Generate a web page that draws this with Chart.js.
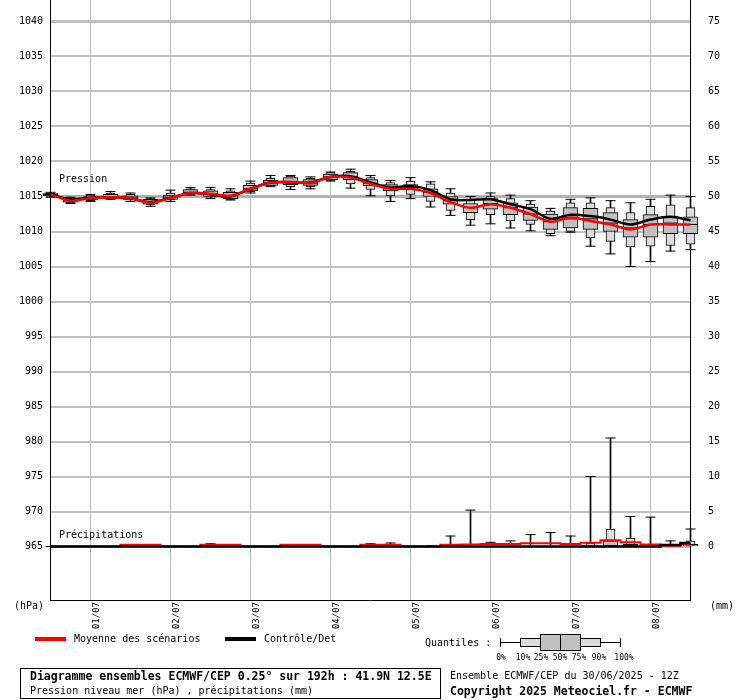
<!DOCTYPE html>
<html>
<head>
<meta charset="utf-8">
<script src="https://cdn.jsdelivr.net/npm/chart.js@4.4.1/dist/chart.umd.min.js"></script>
<style>
  html, body { margin: 0; padding: 0; background: #fff; }
  canvas { display: block; }
</style>
</head>
<body>
<canvas id="graphique" width="740" height="700"></canvas>
<script>
// Echéances (heures depuis le 30/06/2025 12Z)
const heures = [0,6,12,18,24,30,36,42,48,54,60,66,72,78,84,90,96,102,108,114,120,126,132,138,144,150,156,162,168,174,180,186,192];

// Pression (hPa) : quantiles, moyenne, contrôle
const pMin = [1014.9,1014.0,1014.3,1014.6,1014.3,1013.6,1014.3,1015.2,1014.7,1014.5,1015.5,1016.4,1016.0,1016.1,1017.2,1016.2,1015.1,1014.3,1014.7,1013.5,1012.3,1010.9,1011.1,1010.5,1010.1,1009.4,1009.9,1007.9,1006.8,1005.0,1005.7,1007.2,1007.4];
const pP10 = [1015.0,1014.1,1014.4,1014.7,1014.5,1013.8,1014.5,1015.3,1014.9,1014.6,1015.7,1016.5,1016.4,1016.4,1017.3,1016.8,1016.0,1015.1,1015.3,1014.3,1013.0,1011.7,1012.4,1011.5,1011.0,1009.7,1010.0,1009.1,1008.6,1007.8,1007.9,1008.0,1008.2];
const pP25 = [1015.1,1014.2,1014.5,1014.8,1014.6,1013.9,1014.6,1015.4,1015.0,1014.7,1015.8,1016.6,1016.7,1016.6,1017.4,1017.4,1016.5,1015.8,1016.0,1015.0,1013.9,1012.7,1013.2,1012.4,1011.6,1010.3,1010.5,1010.3,1010.0,1009.2,1009.2,1009.7,1009.7];
const pMed = [1015.3,1014.5,1014.8,1015.0,1014.8,1014.2,1014.9,1015.6,1015.4,1015.1,1016.1,1017.0,1017.1,1016.9,1017.8,1017.8,1016.9,1016.2,1016.3,1015.6,1014.4,1013.4,1014.0,1013.4,1012.5,1011.4,1011.8,1011.8,1011.2,1010.5,1011.0,1011.2,1011.0];
const pP75 = [1015.4,1014.7,1015.0,1015.3,1015.1,1014.6,1015.2,1016.0,1015.8,1015.6,1016.6,1017.3,1017.7,1017.4,1018.2,1018.4,1017.4,1016.7,1016.7,1016.1,1015.0,1014.0,1014.7,1014.1,1013.5,1012.5,1013.4,1013.3,1012.7,1011.7,1012.4,1012.2,1012.1];
const pP90 = [1015.5,1014.8,1015.2,1015.5,1015.3,1014.7,1015.5,1016.1,1016.0,1015.8,1016.9,1017.6,1017.9,1017.6,1018.4,1018.6,1017.7,1017.0,1017.2,1016.8,1015.5,1014.5,1015.0,1014.7,1013.9,1012.9,1014.1,1014.1,1013.4,1012.7,1013.6,1013.8,1013.4];
const pMax = [1015.6,1014.9,1015.3,1015.7,1015.5,1014.8,1015.9,1016.3,1016.3,1016.1,1017.2,1018.0,1018.0,1017.8,1018.5,1018.9,1018.0,1017.3,1017.7,1017.1,1016.1,1015.0,1015.5,1015.2,1014.4,1013.3,1014.6,1014.8,1014.4,1014.1,1014.6,1015.2,1015.0];
const pMoy = [1015.3,1014.4,1014.8,1014.9,1014.8,1014.1,1014.8,1015.5,1015.4,1015.1,1016.1,1017.0,1017.1,1016.9,1017.8,1017.7,1016.8,1016.1,1016.1,1015.5,1014.2,1013.4,1013.9,1013.4,1012.5,1011.4,1012.0,1011.5,1011.0,1010.3,1011.0,1011.0,1011.0];
const pCtrl = [1015.3,1014.6,1014.8,1014.9,1014.7,1014.2,1014.8,1015.5,1015.3,1015.0,1016.1,1017.0,1017.0,1017.0,1017.8,1017.9,1017.0,1016.3,1016.5,1015.9,1014.6,1014.5,1014.6,1013.9,1013.2,1011.8,1012.4,1012.2,1011.7,1011.0,1011.7,1012.1,1011.6];

// Précipitations (mm)
const rBas = [0,0,0,0,0,0,0,0,0,0,0,0,0,0,0,0,0,0,0,0,0,0,0,0,0,0,0,0,0,0,0,0,0];
const rP75 = [0,0,0,0,0,0,0,0,0,0,0,0,0,0,0,0,0,0,0,0,0,0,0,0,0,0,0,0.2,0.8,0.3,0,0.1,0.3];
const rP90 = [0,0,0,0,0,0,0,0,0,0,0,0,0,0,0,0,0,0,0,0,0,0,0,0,0,0,0,0.5,2.5,1.2,0,0.1,0.8];
const rMax = [0,0,0,0,0.1,0.1,0,0,0.4,0.1,0,0,0.1,0.1,0,0,0.4,0.5,0,0.1,1.5,5.2,0.6,0.8,1.7,2.0,1.5,10.0,15.5,4.3,4.2,0.8,2.5];
const rMoy = [0,0,0,0,0.25,0.25,0,0,0.25,0.25,0,0,0.25,0.25,0,0,0.25,0.25,0,0,0.25,0.3,0.35,0.35,0.45,0.45,0.35,0.55,0.9,0.6,0.3,0.1,0.35];
const rCtrl = [0,0,0,0,0,0,0,0,0,0,0,0,0,0,0,0,0,0,0,0,0,0,0,0,0,0,0,0,0,0,0,0.2,0.5];

// Graduations
const ticksHpa = [965,970,975,980,985,990,995,1000,1005,1010,1015,1020,1025,1030,1035,1040];
const ticksMm = [0,5,10,15,20,25,30,35,40,45,50,55,60,65,70,75];
const ticksJours = [12,36,60,84,108,132,156,180];
const joursLabels = ['01/07','02/07','03/07','04/07','05/07','06/07','07/07','08/07'];

const police = 'DejaVu Sans Mono';

function paires(bas, haut) {
  return heures.map((h, i) => ({ x: h, y: [bas[i], haut[i]] }));
}
function points(v) {
  return heures.map((h, i) => ({ x: h, y: v[i] }));
}

function moustache(bas, haut, axe, ordre) {
  return { type: 'bar', data: paires(bas, haut), yAxisID: axe, backgroundColor: '#000', borderWidth: 0,
    barThickness: 1, grouped: false, clip: false, order: ordre };
}
function boite(bas, haut, axe, couleur, largeur, ordre) {
  return { type: 'bar', data: paires(bas, haut), yAxisID: axe, backgroundColor: couleur, borderColor: '#000',
    borderWidth: 1, borderSkipped: false, barThickness: largeur, grouped: false, clip: false, order: ordre };
}
function trait(v, axe, rayon, ordre) {
  return { type: 'line', data: points(v), yAxisID: axe, showLine: false, pointStyle: 'line', pointRadius: rayon,
    pointBorderColor: '#000', pointBorderWidth: 1, clip: false, order: ordre };
}
function courbe(v, axe, couleur, ep, ordre, marche) {
  return { type: 'line', data: points(v), yAxisID: axe, borderColor: couleur, borderWidth: ep, pointRadius: 0,
    tension: marche ? 0 : 0.3, stepped: marche ? 'middle' : false, clip: false, order: ordre };
}

const datasets = [
  // pression
  moustache(pMin, pMax, 'y', 30),
  trait(pMax, 'y', 5, 29),
  trait(pMin, 'y', 5, 29),
  boite(pP10, pP90, 'y', '#dcdcdc', 9, 28),
  boite(pP25, pP75, 'y', '#c0c0c0', 15, 27),
  trait(pMed, 'y', 7.5, 26),
  courbe(pCtrl, 'y', '#000', 2.5, 25, false),
  courbe(pMoy, 'y', '#ff0000', 2.5, 24, false),
  // précipitations
  moustache(rBas, rMax, 'y2', 12),
  trait(rMax, 'y2', 5, 11),
  boite(rBas, rP90, 'y2', '#dcdcdc', 9, 10),
  boite(rBas, rP75, 'y2', '#c0c0c0', 15, 9),
  courbe(rMoy, 'y2', '#ff0000', 2, 8, true),
  courbe(rCtrl, 'y2', '#000', 2.5, 7, true)
];

// pas de marge automatique autour des axes
function sansMarge(axe) {
  axe.paddingTop = 0; axe.paddingBottom = 0; axe.paddingLeft = 0; axe.paddingRight = 0;
}

const textes = {
  id: 'textes',
  afterDraw(chart) {
    const ctx = chart.ctx;
    const y = chart.scales.y, y2 = chart.scales.y2;
    ctx.save();
    ctx.fillStyle = '#000';
    ctx.textBaseline = 'middle';
    ctx.textAlign = 'left';
    ctx.font = '10px "' + police + '"';
    ctx.fillText('Pression', 59, y.getPixelForValue(1017.4));
    ctx.fillText('Précipitations', 59, y2.getPixelForValue(1.6));
    ctx.fillText('(hPa)', 14, 606);
    ctx.fillText('(mm)', 710, 606);

    // légende
    ctx.fillStyle = '#ff0000';
    ctx.fillRect(35, 637, 31, 4);
    ctx.fillStyle = '#000';
    ctx.fillRect(225, 637, 31, 4);
    ctx.fillText('Moyenne des scénarios', 74, 639);
    ctx.fillText('Contrôle/Det', 264, 639);
    ctx.fillText('Quantiles :', 425, 643);

    // schéma des quantiles
    ctx.strokeStyle = '#000';
    ctx.lineWidth = 1;
    ctx.beginPath();
    ctx.moveTo(500, 642.5); ctx.lineTo(620, 642.5);
    ctx.moveTo(500.5, 638); ctx.lineTo(500.5, 647);
    ctx.moveTo(620.5, 638); ctx.lineTo(620.5, 647);
    ctx.stroke();
    ctx.fillStyle = '#dcdcdc';
    ctx.fillRect(520, 638, 20, 9); ctx.strokeRect(520.5, 638.5, 20, 8);
    ctx.fillRect(580, 638, 20, 9); ctx.strokeRect(580.5, 638.5, 20, 8);
    ctx.fillStyle = '#c0c0c0';
    ctx.fillRect(540, 634, 40, 17); ctx.strokeRect(540.5, 634.5, 40, 16);
    ctx.beginPath(); ctx.moveTo(560.5, 634); ctx.lineTo(560.5, 651); ctx.stroke();
    ctx.fillStyle = '#000';
    ctx.font = '8px "' + police + '"';
    ctx.textAlign = 'center';
    [['0%', 501], ['10%', 523], ['25%', 541], ['50%', 560], ['75%', 579], ['90%', 599], ['100%', 624]]
      .forEach(([t, x]) => ctx.fillText(t, x, 658));

    // cartouche
    ctx.textAlign = 'left';
    ctx.strokeRect(20.5, 668.5, 420, 30);
    ctx.font = 'bold 11.5px "' + police + '"';
    ctx.fillText('Diagramme ensembles ECMWF/CEP 0.25° sur 192h : 41.9N 12.5E', 30, 677);
    ctx.font = '10px "' + police + '"';
    ctx.fillText('Pression niveau mer (hPa) , précipitations (mm)', 30, 691);
    ctx.fillText('Ensemble ECMWF/CEP du 30/06/2025 - 12Z', 450, 676);
    ctx.font = 'bold 11.5px "' + police + '"';
    ctx.fillText('Copyright 2025 Meteociel.fr - ECMWF', 450, 692);
    ctx.restore();
  }
};

new Chart(document.getElementById('graphique').getContext('2d'), {
  type: 'bar',
  data: { datasets: datasets },
  options: {
    responsive: false,
    animation: false,
    layout: { padding: 0, autoPadding: false },
    plugins: { legend: { display: false }, tooltip: { enabled: false } },
    scales: {
      x: {
        type: 'linear', min: -0.15, max: 191.85, offset: false,
        afterBuildTicks: (axe) => { axe.ticks = ticksJours.map(v => ({ value: v })); },
        afterFit: (axe) => { axe.height = 100; sansMarge(axe); },
        grid: { color: '#c0c0c0', lineWidth: 1, drawTicks: false, offset: false },
        border: { color: '#000', width: 1 },
        ticks: {
          autoSkip: false, minRotation: 90, maxRotation: 90, padding: 2, labelOffset: 6, color: '#000',
          font: { family: police, size: 9 },
          callback: (v) => joursLabels[ticksJours.indexOf(v)]
        }
      },
      y: {
        type: 'linear', position: 'left', min: 957.36, max: 1043.07,
        afterBuildTicks: (axe) => { axe.ticks = ticksHpa.map(v => ({ value: v })); },
        afterFit: (axe) => { axe.width = 50; sansMarge(axe); },
        grid: {
          drawTicks: false,
          color: (c) => c.tick && c.tick.value === 1015 ? '#b0b0b0' : '#c0c0c0',
          lineWidth: (c) => c.tick && (c.tick.value === 1040 || c.tick.value === 1015) ? 3 : 2
        },
        border: { color: '#000', width: 1 },
        ticks: { padding: 7, color: '#000', font: { family: police, size: 10 }, callback: (v) => String(v) }
      },
      y2: {
        type: 'linear', position: 'right', min: -7.64, max: 78.07,
        afterBuildTicks: (axe) => { axe.ticks = ticksMm.map(v => ({ value: v })); },
        afterFit: (axe) => { axe.width = 50; sansMarge(axe); },
        grid: { drawOnChartArea: false, drawTicks: false },
        border: { color: '#000', width: 1 },
        ticks: { padding: 18, color: '#000', font: { family: police, size: 10 }, callback: (v) => String(v) }
      }
    }
  },
  plugins: [textes]
});
</script>
</body>
</html>
